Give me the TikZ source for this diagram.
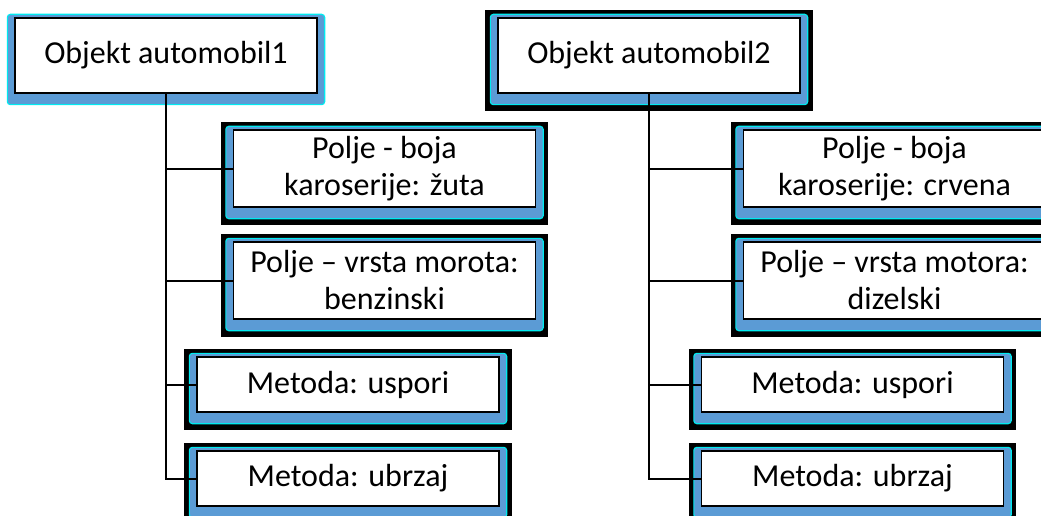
\documentclass[tikz,border=0pt]{standalone}
\usepackage{fontspec}
\setmainfont{Carlito}
\usetikzlibrary{backgrounds}
\definecolor{plava}{RGB}{91,155,213}
\definecolor{tirkiz}{RGB}{0,235,240}
\tikzset{
  polje/.style={draw, line width=1.3pt, fill=white, minimum width=302pt, inner sep=0pt, align=center, font=\fontsize{32}{37}\selectfont},
  plavi/.style={fill=plava, draw=tirkiz, line width=1.2pt, rounded corners=3pt},
  veza/.style={line width=2pt}
}
\begin{document}
\begin{tikzpicture}[x=1pt,y=-1pt]
\clip (0,0) rectangle (1041,516);
% objekti
\node[polje, minimum height=75pt] (o1) at (166,55.5) {Objekt automobil1};
\node[polje, minimum height=75pt] (o2) at (649,55.5) {Objekt automobil2};
% prvi automobil
\node[polje, minimum height=77pt] (p1) at (384.5,168.5) {Polje - boja\\karoserije: žuta};
\node[polje, minimum height=77pt] (p2) at (384.5,280.5) {Polje – vrsta morota:\\benzinski};
\node[polje, minimum height=55pt] (m1) at (348,384.5) {Metoda: uspori};
\node[polje, minimum height=55pt] (m2) at (348,478.5) {Metoda: ubrzaj};
% drugi automobil
\node[polje, minimum height=77pt] (p3) at (894.5,168.5) {Polje - boja\\karoserije: crvena};
\node[polje, minimum height=77pt] (p4) at (894.5,280.5) {Polje – vrsta motora:\\dizelski};
\node[polje, minimum height=55pt] (m3) at (852.5,384.5) {Metoda: uspori};
\node[polje, minimum height=55pt] (m4) at (852.5,478.5) {Metoda: ubrzaj};
\begin{scope}[on background layer]
\foreach \k in {o2,p1,p2,m1,m2,p3,p4,m3,m4}
  \fill ([xshift=-12pt,yshift=7pt]\k.north west) rectangle ([xshift=12pt,yshift=-17pt]\k.south east);
\foreach \k in {o1,o2,p1,p2,m1,m2,p3,p4,m3,m4}
  \draw[plavi] ([xshift=-7pt,yshift=3pt]\k.north west) rectangle ([xshift=7pt,yshift=-11pt]\k.south east);
\end{scope}
\foreach \k in {p1,p2,m1,m2} \draw[veza] (o1.south) |- (\k.west);
\foreach \k in {p3,p4,m3,m4} \draw[veza] (o2.south) |- (\k.west);
\end{tikzpicture}
\end{document}
